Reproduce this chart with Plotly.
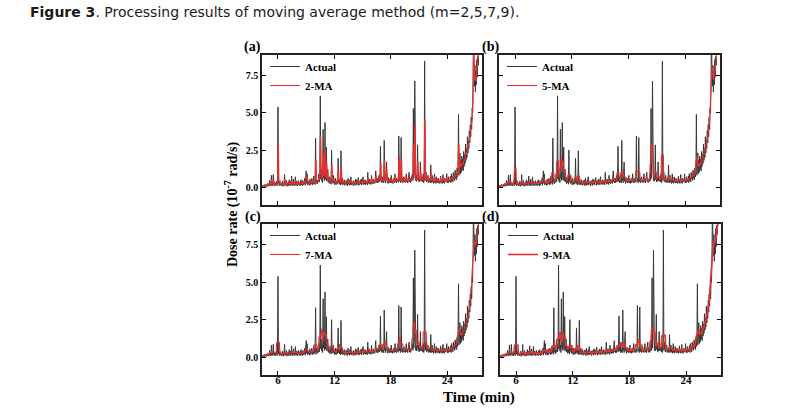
import numpy as np
import pandas as pd
import plotly.graph_objects as go

# ---------------- data ----------------
t_start = 4.3      # min
t_step = 0.05      # min
actual = [
    # 4.30 - 5.25
    0.04, 0.10, 0.02, 0.14, 0.05, 0.18, 0.03, 0.12, 0.08, 0.20, 0.04, 0.15, 0.25, 0.06, 0.22, 0.10, 0.45, 0.12, 0.30, 0.08,
    # 5.30 - 6.25
    0.80, 0.15, 0.30, 0.10, 0.85, 0.20, 0.12, 0.35, 0.08, 0.28, 0.15, 0.40, 0.10, 0.30, 5.40, 0.20, 0.35, 0.10, 0.45, 0.15,
    # 6.30 - 7.25
    0.30, 0.08, 0.25, 0.12, 0.40, 0.05, 0.22, 0.15, 0.85, 0.10, 0.30, 0.18, 0.45, 0.06, 0.28, 0.12, 0.35, 0.08, 0.50, 0.15,
    # 7.30 - 8.25
    0.40, 0.10, 0.25, 0.75, 0.15, 0.35, 0.08, 0.55, 0.20, 0.30, 0.10, 0.70, 0.18, 0.40, 0.12, 0.32, 0.08, 0.45, 0.20, 0.28,
    # 8.30 - 9.25
    0.12, 0.38, 0.10, 0.50, 0.18, 0.30, 0.08, 0.45, 0.15, 0.35, 0.22, 0.60, 0.12, 0.40, 1.10, 0.25, 0.90, 0.15, 0.42, 0.20,
    # 9.30 - 10.25
    0.35, 0.12, 0.55, 0.18, 0.40, 0.25, 0.60, 0.15, 0.45, 0.20, 0.75, 0.30, 0.50, 0.18, 3.30, 0.35, 0.60, 0.22, 0.48, 0.30,
    # 10.30 - 11.25
    0.40, 0.90, 0.35, 0.70, 6.15, 0.55, 1.20, 0.40, 0.80, 0.30, 3.90, 0.60, 1.00, 0.45, 4.35, 0.70, 0.50, 2.70, 0.40, 0.80,
    # 11.30 - 12.25
    1.20, 0.35, 0.60, 0.25, 0.70, 0.30, 0.55, 0.20, 2.50, 0.40, 0.65, 0.25, 0.80, 0.30, 0.45, 0.15, 0.60, 0.22, 0.38, 0.18,
    # 12.30 - 13.25
    0.50, 0.25, 1.95, 0.30, 0.55, 0.20, 0.45, 0.15, 2.45, 0.35, 0.20, 0.60, 0.15, 0.40, 0.22, 0.50, 0.12, 0.35, 0.25, 0.45,
    # 13.30 - 14.25
    0.15, 0.45, 0.10, 0.60, 0.20, 0.35, 0.12, 0.50, 0.18, 0.70, 0.15, 0.40, 0.22, 0.30, 0.10, 0.45, 0.20, 0.35, 0.12, 0.55,
    # 14.30 - 15.25
    0.20, 0.50, 0.15, 0.35, 0.25, 0.65, 0.12, 0.40, 0.18, 0.45, 0.22, 0.55, 0.15, 0.38, 0.25, 0.70, 0.18, 0.42, 0.20, 0.50,
    # 15.30 - 16.25
    0.18, 0.45, 0.22, 0.35, 0.15, 1.00, 0.30, 0.50, 0.20, 0.55, 0.25, 0.40, 0.18, 0.80, 0.30, 0.45, 0.22, 0.55, 0.28, 0.40,
    # 16.30 - 17.25
    0.25, 0.50, 1.10, 0.35, 0.55, 0.28, 0.60, 0.30, 0.45, 0.80, 0.35, 0.55, 2.75, 0.40, 0.65, 0.30, 0.70, 0.35, 0.50, 0.28,
    # 17.30 - 18.25
    3.15, 0.45, 0.60, 0.30, 0.70, 1.70, 0.40, 0.55, 0.25, 0.65, 0.35, 0.50, 0.28, 0.60, 0.32, 0.80, 0.30, 0.45, 0.25, 0.55,
    # 18.30 - 19.25
    0.60, 0.30, 0.45, 0.90, 0.35, 0.55, 0.28, 0.60, 0.40, 0.50, 0.32, 3.45, 0.70, 0.40, 0.55, 0.30, 3.35, 0.50, 0.35, 0.60,
    # 19.30 - 20.25
    0.30, 0.55, 0.70, 0.35, 0.45, 0.30, 0.60, 0.90, 0.35, 0.50, 0.28, 0.55, 0.40, 1.00, 0.35, 0.60, 0.30, 0.50, 0.38, 0.60,
    # 20.30 - 21.25
    0.90, 0.45, 5.30, 0.60, 1.20, 7.15, 0.70, 0.45, 0.80, 0.40, 0.60, 2.85, 0.50, 0.80, 0.35, 0.60, 0.40, 1.70, 0.45, 0.60,
    # 21.30 - 22.25
    0.40, 0.70, 0.35, 0.90, 0.30, 0.55, 8.50, 0.45, 0.60, 1.00, 0.35, 0.50, 0.40, 0.80, 0.30, 0.55, 0.35, 0.60, 0.30, 1.50,
    # 22.30 - 23.25
    0.50, 0.30, 0.80, 0.35, 0.55, 0.25, 0.60, 0.90, 0.30, 0.50, 0.25, 0.70, 0.35, 0.55, 0.28, 0.60, 0.30, 0.45, 0.25, 0.55,
    # 23.30 - 24.25
    0.75, 0.30, 0.50, 0.25, 0.55, 0.85, 0.30, 0.45, 0.25, 0.60, 0.35, 0.50, 0.40, 0.90, 0.30, 0.55, 0.28, 0.70, 0.35, 0.50,
    # 24.30 - 25.25
    0.35, 0.75, 0.30, 0.90, 0.45, 0.70, 0.35, 1.00, 0.55, 0.85, 0.45, 1.15, 0.60, 0.95, 0.50, 1.30, 0.70, 1.10, 4.90, 0.80,
    # 25.30 - 26.25
    1.40, 2.30, 0.90, 1.80, 1.00, 2.10, 1.20, 1.90, 1.10, 2.40, 1.40, 2.20, 1.60, 2.90, 1.80, 2.60, 2.00, 3.40, 2.30, 3.10,
    # 26.30 - 27.25
    2.60, 3.80, 3.00, 4.20, 3.40, 4.70, 3.90, 5.30, 5.00, 7.20, 10.50, 7.60, 6.80, 8.20, 6.40, 7.80, 6.90, 8.60, 7.40, 8.80,
    # 27.30 - 27.50
    8.20, 9.40, 8.90, 10.20, 10.50,
]
ma_windows = [2, 5, 7, 9]
panel_labels = ["(a)", "(b)", "(c)", "(d)"]
x_ticks = [6, 12, 18, 24]
y_ticks = [0.0, 2.5, 5.0, 7.5]
y_tick_text = ["0.0", "2.5", "5.0", "7.5"]

# ---------------- build figure ----------------
W, H = 799, 415


def px(x):
    return x / W


def py(y):
    return 1 - y / H


time = np.round(t_start + t_step * np.arange(len(actual)), 2)
s = pd.Series(actual)

SERIF = "Liberation Serif, Times New Roman, serif"
BLACK = "#383838"
RED = "#e8302e"

# panel boxes in page pixels: (left, right, top, bottom)
boxes = [(262, 482, 55, 205), (499, 720, 55, 205),
         (262, 482, 224, 375), (500, 721, 224, 375)]

fig = go.Figure()
layout = dict(width=W, height=H, margin=dict(l=0, r=0, t=0, b=0),
              paper_bgcolor="white", plot_bgcolor="white", showlegend=True)

for i, m in enumerate(ma_windows):
    n = "" if i == 0 else str(i + 1)
    xa, ya = "x" + n, "y" + n
    lg = "legend" + n
    ma = s.rolling(window=m, center=True, min_periods=1).mean()
    fig.add_trace(go.Scatter(x=time, y=actual, mode="lines", name="Actual",
                             line=dict(color=BLACK, width=1), xaxis=xa, yaxis=ya,
                             legend=lg))
    fig.add_trace(go.Scatter(x=time, y=ma, mode="lines", name=f"{m}-MA",
                             line=dict(color=RED, width=1.1 if m < 9 else 1.6),
                             xaxis=xa, yaxis=ya, legend=lg))
    l, r, t, b = boxes[i]
    bottom_row = i >= 2
    left_col = i % 2 == 0
    layout["xaxis" + n] = dict(
        domain=[px(l), px(r)], range=[4.3, 27.7], anchor=ya,
        tickvals=x_ticks, ticktext=[str(v) for v in x_ticks],
        showticklabels=bottom_row, ticks="inside", ticklen=4, tickwidth=1,
        tickcolor="black", showline=True, linecolor="#222", linewidth=1.5,
        mirror="ticks", showgrid=False, zeroline=False, ticklabelstandoff=-6,
        tickfont=dict(family=SERIF, size=11, color="black", weight="bold"))
    layout["yaxis" + n] = dict(
        domain=[py(b), py(t)], range=[-1.2, 8.9], anchor=xa,
        tickvals=y_ticks, ticktext=y_tick_text, showticklabels=left_col,
        ticks="inside", ticklen=4, tickwidth=1, tickcolor="black",
        showline=True, linecolor="#222", linewidth=1.5, mirror="ticks",
        showgrid=False, zeroline=False,
        tickfont=dict(family=SERIF, size=10, color="black", weight="bold"))
    layout[lg] = dict(x=px(l + 3), y=py(t - 3), xanchor="left", yanchor="top",
                      bgcolor="rgba(0,0,0,0)", borderwidth=0, itemwidth=30,
                      tracegroupgap=0,
                      font=dict(family=SERIF, size=11, color="black", weight="bold"))

fig.update_layout(**layout)

annotations = []
label_pos = [(253, 47), (490, 47), (253, 217), (490, 217)]
for lab, (lx, ly) in zip(panel_labels, label_pos):
    annotations.append(dict(x=px(lx), y=py(ly), xref="paper", yref="paper",
                            text=lab, showarrow=False, xanchor="center", yanchor="middle",
                            font=dict(family=SERIF, size=14, color="black", weight="bold")))
annotations.append(dict(x=px(231), y=py(204), xref="paper", yref="paper",
                        text="Dose rate (10<sup>-7</sup> rad/s)", textangle=-90,
                        showarrow=False, xanchor="center", yanchor="middle",
                        font=dict(family=SERIF, size=14, color="black", weight="bold")))
annotations.append(dict(x=px(479), y=py(397), xref="paper", yref="paper",
                        text="Time (min)", showarrow=False, xanchor="center", yanchor="middle",
                        font=dict(family=SERIF, size=15, color="black", weight="bold")))
annotations.append(dict(x=px(28), y=py(12), xref="paper", yref="paper",
                        text="<b>Figure 3</b>. Processing results of moving average method (m=2,5,7,9).",
                        showarrow=False, xanchor="left", yanchor="middle",
                        font=dict(family="DejaVu Sans, Verdana, sans-serif", size=14, color="#1a1a1a")))
fig.update_layout(annotations=annotations)

# remove the default 8px page margin so the figure fills the window exactly
fig.write_html("out.html", config={"displayModeBar": False},
               post_script="document.body.style.margin='0';document.body.style.overflow='hidden';")
